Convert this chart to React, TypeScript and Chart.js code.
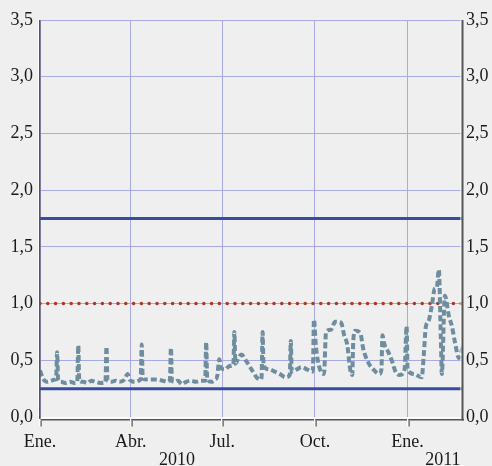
import React, { useEffect, useRef } from 'react';
import { Chart, registerables } from 'chart.js';

Chart.register(...registerables);

// Days since 1 Jan 2010
const seriesDays = [
  0, 3, 7, 11, 15, 16, 17, 18, 21, 25, 30, 34, 37, 38, 39, 43, 47, 51, 55, 60,
  65, 66, 67, 71, 75, 79, 84, 87, 89, 94, 98, 100, 101, 102, 106, 111, 116, 122, 126, 129,
  130, 131, 134, 137, 141, 145, 150, 155, 160, 164, 165, 166, 170, 174, 176, 178, 180, 184, 188, 192,
  193, 194, 197, 200, 205, 210, 215, 219, 220, 221, 222, 228, 233, 238, 244, 248, 249, 250, 255, 260,
  265, 270, 271, 272, 274, 277, 282, 284, 289, 293, 299, 302, 305, 308, 310, 311, 313, 318, 321, 326,
  331, 337, 339, 340, 342, 346, 350, 353, 357, 362, 364, 365, 371, 379, 381, 383, 386, 389, 392, 394,
  396, 398, 399, 402, 406, 409, 412, 416, 420,
];
const seriesValues = [
  0.41, 0.34, 0.31, 0.32, 0.33, 0.34, 0.57, 0.33, 0.31, 0.30, 0.31, 0.30, 0.31, 0.63, 0.32, 0.31, 0.30, 0.32, 0.31, 0.30,
  0.31, 0.62, 0.32, 0.31, 0.32, 0.31, 0.33, 0.38, 0.33, 0.31, 0.32, 0.34, 0.64, 0.34, 0.33, 0.33, 0.33, 0.32, 0.31, 0.33,
  0.61, 0.32, 0.31, 0.32, 0.29, 0.31, 0.32, 0.31, 0.32, 0.32, 0.66, 0.34, 0.31, 0.33, 0.36, 0.51, 0.43, 0.42, 0.45, 0.46,
  0.75, 0.47, 0.52, 0.55, 0.49, 0.42, 0.35, 0.33, 0.35, 0.75, 0.45, 0.42, 0.40, 0.38, 0.35, 0.37, 0.67, 0.40, 0.42, 0.44,
  0.42, 0.40, 0.42, 0.86, 0.62, 0.45, 0.38, 0.75, 0.77, 0.84, 0.83, 0.72, 0.64, 0.42, 0.37, 0.66, 0.76, 0.74, 0.60, 0.48,
  0.42, 0.38, 0.42, 0.72, 0.64, 0.57, 0.48, 0.40, 0.37, 0.42, 0.80, 0.42, 0.38, 0.35, 0.54, 0.79, 0.85, 0.98, 1.13, 1.14,
  1.30, 0.69, 0.38, 1.07, 0.89, 0.80, 0.66, 0.52, 0.63,
];

const tickDays = [0, 90, 181, 273, 365];
const tickLabels = ['Ene.', 'Abr.', 'Jul.', 'Oct.', 'Ene.'];
const yearLabels = ['2010', '2011'];
const yearDays = [136, 400];

const upperLimit = 1.75;
const lowerLimit = 0.25;
const referenceLevel = 1.0;

const xMin = 0;
const xMax = 420;
const yMin = 0;
const yMax = 3.5;
const yStep = 0.5;

const FONT = '"Liberation Serif", "Times New Roman", serif';
const TEXT = '#1a1a1a';
const GRID = '#a9a9e4';
const FRAME = '#555555';

const fmt = (v: number) => Number(v).toFixed(1).replace('.', ',');

export default function App() {
  const ref = useRef<HTMLCanvasElement>(null);

  useEffect(() => {
    if (!ref.current) return;

    const bgPlugin = {
      id: 'bg',
      beforeDraw(chart: any) {
        const { ctx, width, height } = chart;
        ctx.save();
        ctx.fillStyle = '#efefef';
        ctx.fillRect(0, 0, width, height);
        ctx.restore();
      },
    };

    const framePlugin = {
      id: 'frame',
      afterDraw(chart: any) {
        const { ctx, chartArea } = chart;
        const { left, right, top, bottom } = chartArea;
        const xs = chart.scales.x;
        ctx.save();
        // left axis
        ctx.fillStyle = '#ffffff';
        ctx.fillRect(left - 2, top, 1, bottom - top + 3);
        ctx.fillStyle = FRAME;
        ctx.fillRect(left - 1, top, 1.5, bottom - top + 3);
        // bottom axis
        ctx.fillStyle = '#ffffff';
        ctx.fillRect(left + 1, bottom, right - left - 3, 1.5);
        ctx.fillStyle = FRAME;
        ctx.fillRect(left + 1, bottom + 2, right - left, 1.5);
        // right axis
        ctx.fillStyle = '#ffffff';
        ctx.fillRect(right - 2.5, top, 1, bottom - top + 1.5);
        ctx.fillStyle = FRAME;
        ctx.fillRect(right - 1.5, top, 2, bottom - top + 3.5);
        // ticks
        tickDays.forEach((d) => {
          const x = Math.round(xs.getPixelForValue(d));
          ctx.fillStyle = '#ffffff';
          ctx.fillRect(x - 1, bottom + 2, 1.2, 7);
          ctx.fillStyle = FRAME;
          ctx.fillRect(x + 0.5, bottom + 3.5, 1.2, 6);
        });
        // years
        ctx.fillStyle = TEXT;
        ctx.font = `18px ${FONT}`;
        ctx.textAlign = 'center';
        ctx.textBaseline = 'alphabetic';
        yearLabels.forEach((t, i) => {
          ctx.fillText(t, xs.getPixelForValue(yearDays[i]), 465);
        });
        ctx.restore();
      },
    };

    const chart = new Chart(ref.current, {
      type: 'line',
      data: {
        datasets: [
          {
            label: 'serie',
            data: seriesDays.map((d, i) => ({ x: d, y: seriesValues[i] })),
            borderColor: '#6e8ea0',
            borderWidth: 4,
            borderDash: [6, 3],
            pointRadius: 0,
            cubicInterpolationMode: 'monotone',
            fill: false,
            order: 0,
          },
          {
            label: 'upper',
            data: [
              { x: xMin, y: upperLimit },
              { x: xMax, y: upperLimit },
            ],
            borderColor: '#3a4ca0',
            borderWidth: 3,
            pointRadius: 0,
            order: 2,
          },
          {
            label: 'lower',
            data: [
              { x: xMin, y: lowerLimit },
              { x: xMax, y: lowerLimit },
            ],
            borderColor: '#3a4ca0',
            borderWidth: 3,
            pointRadius: 0,
            order: 2,
          },
          {
            label: 'ref',
            data: [
              { x: xMin, y: referenceLevel },
              { x: xMax, y: referenceLevel },
            ],
            borderColor: '#a83a2a',
            borderWidth: 3.6,
            borderDash: [0, 7.8],
            borderCapStyle: 'round',
            pointRadius: 0,
            order: 1,
          },
        ],
      } as any,
      options: {
        animation: false,
        responsive: false,
        devicePixelRatio: 1,
        layout: { padding: { top: 20, left: 0, right: 0, bottom: 0 } },
        plugins: { legend: { display: false }, tooltip: { enabled: false } },
        scales: {
          x: {
            type: 'linear',
            position: 'bottom',
            min: xMin,
            max: xMax,
            afterBuildTicks: (s: any) => {
              s.ticks = tickDays.map((v) => ({ value: v }));
            },
            afterFit: (s: any) => {
              s.height = 49;
            },
            ticks: {
              autoSkip: false,
              maxRotation: 0,
              padding: 14,
              color: TEXT,
              font: { family: FONT, size: 18 },
              callback: (_v: any, i: number) => tickLabels[i],
            },
            grid: { color: GRID, lineWidth: 1, drawTicks: false },
            border: { display: false },
          },
          y: {
            type: 'linear',
            position: 'left',
            min: yMin,
            max: yMax,
            afterFit: (s: any) => {
              s.width = 40;
            },
            ticks: {
              stepSize: yStep,
              padding: 7,
              color: TEXT,
              font: { family: FONT, size: 18 },
              callback: (v: any) => fmt(v),
            },
            grid: { color: GRID, lineWidth: 1, drawTicks: false },
            border: { display: false },
          },
          y2: {
            type: 'linear',
            position: 'right',
            min: yMin,
            max: yMax,
            afterFit: (s: any) => {
              s.width = 29;
            },
            ticks: {
              stepSize: yStep,
              padding: 3,
              color: TEXT,
              font: { family: FONT, size: 18 },
              callback: (v: any) => fmt(v),
            },
            grid: { display: false, drawTicks: false },
            border: { display: false },
          },
        },
      } as any,
      plugins: [bgPlugin, framePlugin],
    });

    return () => chart.destroy();
  }, []);

  return (
    <div style={{ position: 'fixed', left: 0, top: 0, width: 492, height: 466, background: '#efefef' }}>
      <canvas ref={ref} width={492} height={466} style={{ display: 'block', width: 492, height: 466 }} />
    </div>
  );
}
